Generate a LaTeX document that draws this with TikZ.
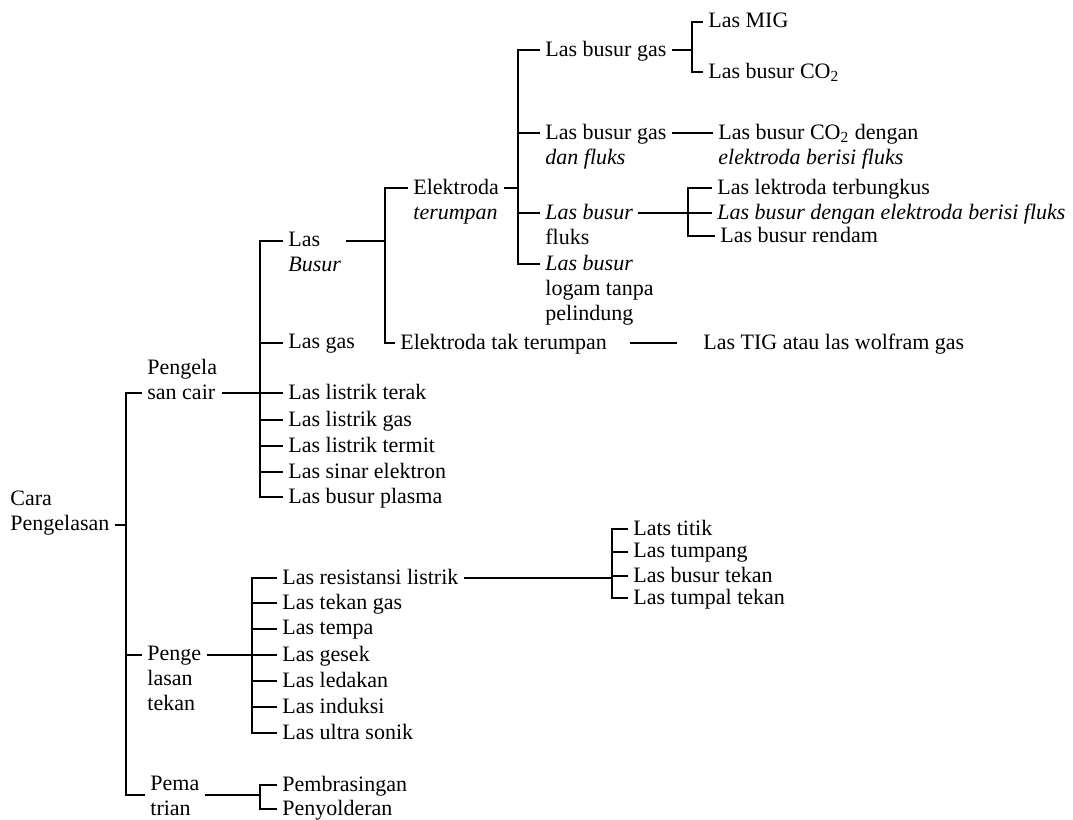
\documentclass[tikz,border=0pt]{standalone}
\usepackage{fontspec}
\setmainfont{Liberation Serif}

\begin{document}
\begin{tikzpicture}[
  x=0.5pt, y=-0.5pt,
  font=\fontsize{11}{12.5}\selectfont,
  lbl/.style={anchor=north west,inner xsep=2.5pt,inner ysep=0pt,yshift=4.5pt,align=left},
  br/.style={line width=0.9pt,black}
]
\useasboundingbox (0,0) rectangle (1073,820);

% first levels
\node[lbl] (cara)  at (5,500)   {Cara\\Pengelasan};
\node[lbl] (cair)  at (142,368) {Pengela\\san cair};
\node[lbl] (penge) at (142,655) {Penge\\lasan\\tekan};
\node[lbl] (pema)  at (145,785) {Pema\\trian};

% pengelasan cair
\node[lbl] (busur)  at (283,241) {Las\\\textit{Busur}};
\node[lbl] (lasgas) at (283,343) {Las gas};
\node[lbl] (terak)  at (283,393) {Las listrik terak};
\node[lbl] (lgas)   at (283,420) {Las listrik gas};
\node[lbl] (termit) at (283,446) {Las listrik termit};
\node[lbl] (sinar)  at (283,472) {Las sinar elektron};
\node[lbl] (plasma) at (283,497) {Las busur plasma};

\node[lbl] (elka) at (408,188) {Elektroda\\\textit{terumpan}};
\node[lbl] (elkb) at (395,343) {Elektroda tak terumpan};
\node[lbl] (tig)  at (698,343) {Las TIG atau las wolfram gas};

\node[lbl] (bgas) at (540,50)  {Las busur gas};
\node[lbl] (bgf)  at (540,133) {Las busur gas\\\textit{dan fluks}};
\node[lbl] (bfl)  at (540,213) {\textit{Las busur}\\fluks};
\node[lbl] (blog) at (540,264) {\textit{Las busur}\\logam tanpa\\pelindung};

\node[lbl] (mig)  at (703,22)  {Las MIG};
\node[lbl] (co2)  at (703,72)  {Las busur CO\textsubscript{2}};
\node[lbl] (co2f) at (713,133) {Las busur CO\textsubscript{2} dengan\\\textit{elektroda berisi fluks}};

\node[lbl] (lek)    at (712,188) {Las lektroda terbungkus};
\node[lbl] (bdf)    at (712,213) {\textit{Las busur dengan elektroda berisi fluks}};
\node[lbl] (rendam) at (715,236) {Las busur rendam};

% pengelasan tekan
\node[lbl] (res)     at (277,578) {Las resistansi listrik};
\node[lbl] (tgas)    at (277,603) {Las tekan gas};
\node[lbl] (tempa)   at (277,629) {Las tempa};
\node[lbl] (gesek)   at (277,655) {Las gesek};
\node[lbl] (ledak)   at (277,681) {Las ledakan};
\node[lbl] (induksi) at (277,707) {Las induksi};
\node[lbl] (ultra)   at (277,733) {Las ultra sonik};

\node[lbl] (titik)   at (628,529) {Lats titik};
\node[lbl] (tumpang) at (628,552) {Las tumpang};
\node[lbl] (btekan)  at (628,576) {Las busur tekan};
\node[lbl] (tumpal)  at (628,598) {Las tumpal tekan};

% pematrian
\node[lbl] (brasing) at (277,785) {Pembrasingan};
\node[lbl] (solder)  at (277,809) {Penyolderan};

% hook points on the first line (or the line that is joined)
\foreach \nd in {penge,busur,lasgas,terak,lgas,termit,sinar,plasma,elka,elkb,tig,
                 bgas,bgf,bfl,blog,mig,co2,co2f,lek,bdf,rendam,res,tgas,tempa,gesek,
                 ledak,induksi,ultra,titik,tumpang,btekan,tumpal,brasing,solder}{
  \coordinate (\nd-l) at ([yshift=-4.5pt]\nd.north west);
  \coordinate (\nd-r) at ([yshift=-4.5pt]\nd.north east);
}
\foreach \nd/\dy in {cara/17pt,cair/17pt,pema/9.5pt}{
  \coordinate (\nd-l) at ([yshift=-\dy]\nd.north west);
  \coordinate (\nd-r) at ([yshift=-\dy]\nd.north east);
}

% bracket joints
\coordinate (j0) at (126,0 |- cara-r);
\coordinate (j1) at (260,0 |- cair-r);
\coordinate (j2) at (385,0 |- busur-r);
\coordinate (j3) at (518,0 |- elka-r);
\coordinate (j4) at (692,0 |- bgas-r);
\coordinate (j5) at (688,0 |- bfl-r);
\coordinate (j6) at (252,0 |- penge-r);
\coordinate (j7) at (612,0 |- res-r);
\coordinate (j8) at (260,0 |- pema-r);

\draw[br] (cara-r) -- (j0);
\foreach \c in {cair,penge,pema} \draw[br] (\c-l) -| (j0);

\draw[br] (cair-r) -- (j1);
\foreach \c in {busur,lasgas,terak,lgas,termit,sinar,plasma} \draw[br] (\c-l) -| (j1);

\draw[br] (busur-r) -- (j2);
\foreach \c in {elka,elkb} \draw[br] (\c-l) -| (j2);
\draw[br,shorten <=9pt,shorten >=10.5pt] (elkb-r) -- (tig-l);

\draw[br] (elka-r) -- (j3);
\foreach \c in {bgas,bgf,bfl,blog} \draw[br] (\c-l) -| (j3);

\draw[br] (bgas-r) -- (j4);
\foreach \c in {mig,co2} \draw[br] (\c-l) -| (j4);

\draw[br] (bgf-r) -- (co2f-l);

\draw[br] (bfl-r) -- (j5);
\foreach \c in {lek,bdf,rendam} \draw[br] (\c-l) -| (j5);

\draw[br] (penge-r) -- (j6);
\foreach \c in {res,tgas,tempa,gesek,ledak,induksi,ultra} \draw[br] (\c-l) -| (j6);

\draw[br] (res-r) -- (j7);
\foreach \c in {titik,tumpang,btekan,tumpal} \draw[br] (\c-l) -| (j7);

\draw[br] (pema-r) -- (j8);
\foreach \c in {brasing,solder} \draw[br] (\c-l) -| (j8);

\end{tikzpicture}
\end{document}
